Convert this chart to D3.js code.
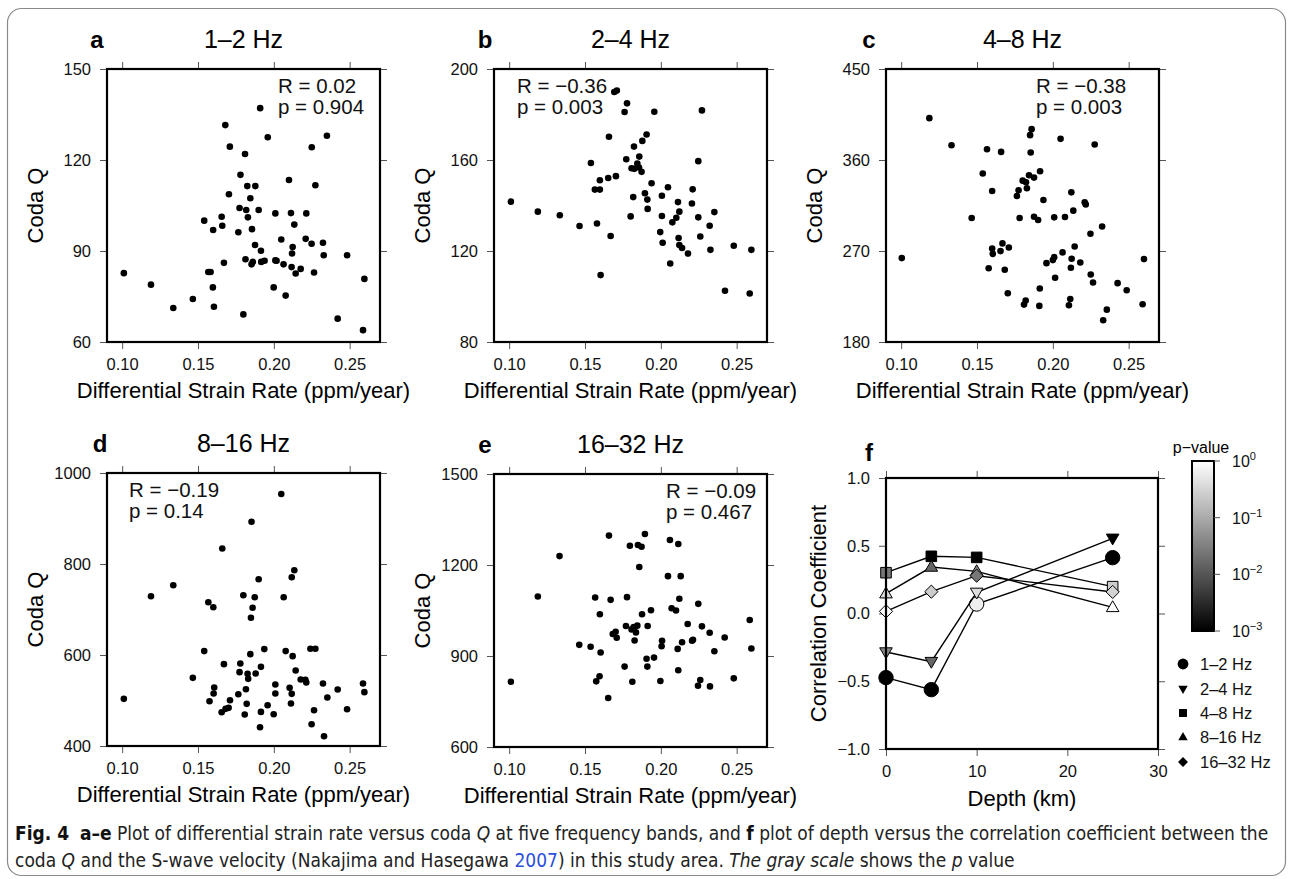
<!DOCTYPE html>
<html>
<head>
<meta charset="utf-8">
<script src="https://cdn.jsdelivr.net/npm/d3@7"></script>
<style>
  html, body { margin: 0; padding: 0; background: #fff; }
  svg { display: block; }
</style>
</head>
<body>
<svg id="chart" width="1291" height="879"></svg>
<script>
// ---- data ----
const strainTicks = [0.10, 0.15, 0.20, 0.25];

// panel a, 1-2 Hz: [strain rate, coda Q]
const band12 = [
  [0.191,137.1],[0.168,131.5],[0.196,127.5],[0.235,128.0],[0.171,124.4],[0.225,124.2],[0.181,122.0],
  [0.178,115.1],[0.210,113.4],[0.1825,111.4],[0.1878,111.4],[0.2274,111.7],[0.1704,108.7],[0.1845,107.4],
  [0.1774,104.2],[0.1818,103.5],[0.190,103.5],[0.201,102.4],[0.2113,102.5],[0.2214,102.4],[0.1656,101.3],
  [0.1829,101.1],[0.1541,100.0],[0.166,98.3],[0.2135,98.7],[0.160,96.9],[0.1766,96.2],[0.1856,97.2],
  [0.2049,93.8],[0.221,94.0],[0.1876,92.0],[0.2249,92.4],[0.2324,92.7],[0.2124,91.3],[0.1915,90.1],
  [0.212,89.2],[0.2483,88.6],[0.2329,88.6],[0.1813,87.3],[0.1671,86.1],[0.1862,86.4],[0.1853,85.6],
  [0.1917,86.4],[0.1939,86.8],[0.201,86.9],[0.2018,86.8],[0.2064,85.6],[0.2117,84.7],[0.2177,84.1],
  [0.2144,82.6],[0.2265,82.9],[0.1011,82.7],[0.1568,83.1],[0.1583,83.1],[0.2597,80.8],[0.119,78.9],
  [0.1999,78.0],[0.1598,78.0],[0.2078,75.3],[0.1466,74.2],[0.1337,71.2],[0.1605,71.6],[0.1799,69.1],
  [0.2421,67.7],[0.2588,63.9]
];

// panel b, 2-4 Hz
const band24 = [
  [0.1693,189.9],[0.171,190.5],[0.1777,184.9],[0.1761,181.1],[0.1957,181.2],[0.2271,181.8],[0.1658,170.2],
  [0.1906,171.2],[0.1878,168.4],[0.1823,165.9],[0.1858,161.5],[0.1772,160.3],[0.1539,158.7],[0.2247,159.5],
  [0.1845,158.4],[0.1807,156.4],[0.1825,156.1],[0.1856,156.7],[0.1873,154.8],[0.1704,152.9],[0.1653,152.1],
  [0.1598,151.1],[0.1939,149.8],[0.2047,148.0],[0.221,147.1],[0.1565,147.0],[0.1598,147.0],[0.1895,145.4],
  [0.1818,143.7],[0.1911,142.6],[0.2007,144.3],[0.1011,141.7],[0.2113,141.5],[0.2205,140.9],[0.1913,138.5],
  [0.2122,137.3],[0.1189,137.3],[0.2353,137.1],[0.1334,135.7],[0.1801,135.2],[0.2007,135.4],[0.2247,134.8],
  [0.2102,134.6],[0.2076,132.6],[0.1579,132.1],[0.1464,131.0],[0.2322,131.1],[0.1996,128.3],[0.1669,126.6],
  [0.2117,125.7],[0.226,126.4],[0.2012,123.6],[0.2122,122.6],[0.214,121.3],[0.2179,118.9],[0.2481,122.3],
  [0.2597,120.5],[0.2327,120.5],[0.2062,114.5],[0.1603,109.4],[0.2423,102.5],[0.2586,101.3]
];

// panel c, 4-8 Hz
const band48 = [
  [0.1186,401.4],[0.186,390.5],[0.185,384.6],[0.2051,380.9],[0.1332,374.6],[0.2276,375.3],[0.1566,370.7],
  [0.1659,368.0],[0.1854,367.4],[0.1538,346.6],[0.1916,348.9],[0.1843,344.9],[0.1876,342.6],[0.1801,339.6],
  [0.1823,338.0],[0.1829,332.0],[0.1774,330.0],[0.160,329.4],[0.1763,324.4],[0.2122,328.0],[0.1938,320.4],
  [0.221,318.1],[0.2217,316.1],[0.2135,309.9],[0.1465,302.6],[0.1781,302.6],[0.1876,303.9],[0.1903,300.6],
  [0.2009,303.3],[0.208,303.6],[0.2325,294.3],[0.2248,287.1],[0.1668,277.5],[0.160,272.5],[0.171,273.5],
  [0.1655,269.9],[0.1604,267.2],[0.2144,274.5],[0.2064,268.6],[0.2009,263.9],[0.200,261.0],[0.2124,262.3],
  [0.1004,263.0],[0.2601,262.0],[0.1958,258.0],[0.2181,258.7],[0.2119,253.4],[0.1577,253.0],[0.1683,251.4],
  [0.225,246.8],[0.2015,243.5],[0.2265,238.8],[0.2427,238.2],[0.2487,231.2],[0.1914,232.9],[0.1703,228.2],
  [0.1821,221.0],[0.181,217.0],[0.1911,215.7],[0.2115,222.6],[0.2106,216.4],[0.2592,217.3],[0.2356,212.0],
  [0.2332,201.5]
];

// panel d, 8-16 Hz
const band816 = [
  [0.2049,953.7],[0.1853,892.8],[0.166,834.0],[0.2135,786.2],[0.2118,770.9],[0.190,766.4],[0.1337,753.2],
  [0.119,729.0],[0.1799,731.2],[0.1874,726.8],[0.2065,726.8],[0.1568,715.8],[0.1601,704.8],[0.186,704.0],
  [0.1849,682.0],[0.1541,608.6],[0.1937,613.0],[0.2078,608.6],[0.2241,613.7],[0.2274,613.7],[0.1845,601.9],
  [0.2124,597.5],[0.1671,579.9],[0.1779,581.4],[0.1915,574.0],[0.1774,562.3],[0.1827,558.6],[0.188,559.3],
  [0.2144,565.9],[0.1466,549.8],[0.1831,547.6],[0.2177,546.1],[0.2208,545.4],[0.2214,539.5],[0.2324,537.3],
  [0.2588,537.3],[0.1607,528.5],[0.2104,527.8],[0.201,535.1],[0.1816,524.8],[0.1603,515.3],[0.201,515.3],
  [0.2118,514.6],[0.2421,524.1],[0.2597,518.3],[0.1766,513.8],[0.2353,506.5],[0.1011,503.6],[0.1711,500.6],
  [0.1576,498.4],[0.2113,493.3],[0.1821,492.6],[0.1959,489.6],[0.1702,483.8],[0.1682,481.6],[0.1656,474.3],
  [0.1915,475.0],[0.2265,478.7],[0.2483,480.9],[0.1808,469.1],[0.1999,469.8],[0.2249,447.8],[0.1909,441.2],
  [0.2331,421.3]
];

// panel e, 16-32 Hz
const band1632 = [
  [0.1895,1302.3],[0.1658,1296.9],[0.206,1282.5],[0.1796,1263.7],[0.1849,1265.9],[0.1873,1260.4],[0.2115,1269.2],
  [0.1332,1229.4],[0.1858,1193.2],[0.2047,1163.3],[0.2131,1163.3],[0.1189,1096.1],[0.1567,1092.9],[0.1669,1085.1],
  [0.1777,1094.0],[0.2122,1088.5],[0.2247,1071.9],[0.1935,1050.9],[0.2071,1057.5],[0.210,1049.8],[0.1598,1037.6],
  [0.1876,1037.6],[0.2586,1018.7],[0.2177,1005.6],[0.2271,997.8],[0.177,999.0],[0.1821,995.7],[0.1845,1000.0],
  [0.1913,999.0],[0.1807,987.7],[0.1836,977.8],[0.2322,976.7],[0.1702,980.0],[0.1683,972.3],[0.1709,960.1],
  [0.2421,961.2],[0.1827,951.2],[0.2008,950.1],[0.2212,953.5],[0.2206,950.2],[0.214,945.5],[0.2005,932.3],
  [0.2111,923.4],[0.1462,936.7],[0.1537,930.3],[0.1603,911.4],[0.2597,924.5],[0.2353,915.6],[0.1955,894.8],
  [0.1906,890.7],[0.1761,865.0],[0.1911,865.0],[0.2115,852.9],[0.1011,815.3],[0.1596,833.3],[0.1574,816.4],
  [0.1812,815.3],[0.1997,817.5],[0.226,820.8],[0.2245,802.0],[0.2324,799.8],[0.2481,826.3],[0.1653,761.6]
];

const bandTitles = ["1–2 Hz", "2–4 Hz", "4–8 Hz", "8–16 Hz", "16–32 Hz"];
const rValues = ["0.02", "−0.36", "−0.38", "−0.19", "−0.09"];
const pValues = ["0.904", "0.003", "0.003", "0.14", "0.467"];

// panel f
const depths = [0, 5, 10, 25];
const depthTicks = [0, 10, 20, 30];
const corrTicks = [-1.0, -0.5, 0.0, 0.5, 1.0];
const corr12 = [-0.473, -0.562, 0.070, 0.412];
const corr24 = [-0.284, -0.355, 0.156, 0.555];
const corr48 = [0.301, 0.422, 0.414, 0.198];
const corr816 = [0.146, 0.343, 0.311, 0.045];
const corr1632 = [0.016, 0.161, 0.279, 0.159];
const pval12 = [0.001, 0.001, 0.63, 0.001];
const pval24 = [0.04, 0.016, 0.4, 0.001];
const pval48 = [0.025, 0.001, 0.001, 0.25];
const pval816 = [0.4, 0.016, 0.04, 1.0];
const pval1632 = [1.0, 0.25, 0.025, 0.3];
const colorTicks = [1, 0.1, 0.01, 0.001];
const colorExps = ["0", "−1", "−2", "−3"];

// ---- drawing ----
const svg = d3.select("#chart");
const font = "'Liberation Sans', Arial, Helvetica, sans-serif";
const size = 273;

svg.append("rect")
    .attr("x", 7.5).attr("y", 8.5)
    .attr("width", 1278).attr("height", 867)
    .attr("rx", 14)
    .attr("fill", "none")
    .attr("stroke", "#8a8a8a")
    .attr("stroke-width", 1.2);

function styleAxis(ax) {
    ax.select(".domain").remove();
    ax.selectAll(".tick line").attr("stroke", "#555").attr("stroke-width", 1);
    ax.selectAll(".tick text")
        .attr("fill", "#111")
        .attr("font-family", font)
        .attr("font-size", 16.5);
}

function frameAxes(g, x, y, xTickVals, yTickVals, xFmt, yFmt, h) {
    styleAxis(g.append("g").attr("transform", `translate(0,${h})`)
        .call(d3.axisBottom(x).tickValues(xTickVals).tickFormat(xFmt).tickSize(7).tickPadding(9)));
    styleAxis(g.append("g")
        .call(d3.axisTop(x).tickValues(xTickVals).tickFormat("").tickSize(7)));
    styleAxis(g.append("g")
        .call(d3.axisLeft(y).tickValues(yTickVals).tickFormat(yFmt).tickSize(7).tickPadding(9)));
    styleAxis(g.append("g").attr("transform", `translate(${size},0)`)
        .call(d3.axisRight(y).tickValues(yTickVals).tickFormat("").tickSize(7)));
}

function panelTitle(letter, lx, title, cx, baseY) {
    svg.append("text")
        .attr("x", lx).attr("y", baseY)
        .attr("text-anchor", "middle")
        .attr("font-family", font).attr("font-size", 24).attr("font-weight", "bold")
        .text(letter);
    if (title) {
        svg.append("text")
            .attr("x", cx).attr("y", baseY)
            .attr("text-anchor", "middle")
            .attr("font-family", font).attr("font-size", 25)
            .text(title);
    }
}

const scatterPanels = [
    { data: band12, letter: "a", left: 107, top: 69, lx: 97, yDomain: [60, 150], yTicks: [60, 90, 120, 150], statX: 171 },
    { data: band24, letter: "b", left: 494, top: 69, lx: 485, yDomain: [80, 200], yTicks: [80, 120, 160, 200], statX: 23 },
    { data: band48, letter: "c", left: 886, top: 69, lx: 869, yDomain: [180, 450], yTicks: [180, 270, 360, 450], statX: 150 },
    { data: band816, letter: "d", left: 107, top: 473, lx: 100, yDomain: [400, 1000], yTicks: [400, 600, 800, 1000], statX: 22 },
    { data: band1632, letter: "e", left: 494, top: 474, lx: 485, yDomain: [600, 1500], yTicks: [600, 900, 1200, 1500], statX: 172 }
];

scatterPanels.forEach((p, i) => {
    const g = svg.append("g").attr("transform", `translate(${p.left},${p.top})`);
    const x = d3.scaleLinear().domain([0.09, 0.27]).range([0, size]);
    const y = d3.scaleLinear().domain(p.yDomain).range([size, 0]);

    frameAxes(g, x, y, strainTicks, p.yTicks, d3.format(".2f"), d3.format("d"), size);

    g.append("g").selectAll("circle")
        .data(p.data)
        .join("circle")
        .attr("cx", d => x(d[0]))
        .attr("cy", d => y(d[1]))
        .attr("r", 3.3)
        .attr("fill", "#000");

    g.append("rect")
        .attr("width", size).attr("height", size)
        .attr("fill", "none").attr("stroke", "#000").attr("stroke-width", 2.2);

    const stat = g.append("text")
        .attr("font-family", font).attr("font-size", 20.5).attr("fill", "#111");
    stat.append("tspan").attr("x", p.statX).attr("y", 24).text(`R = ${rValues[i]}`);
    stat.append("tspan").attr("x", p.statX).attr("y", 45).text(`p = ${pValues[i]}`);

    g.append("text")
        .attr("x", size / 2).attr("y", size + 56)
        .attr("text-anchor", "middle")
        .attr("font-family", font).attr("font-size", 22)
        .text("Differential Strain Rate (ppm/year)");

    g.append("text")
        .attr("transform", `translate(-64,${size / 2}) rotate(-90)`)
        .attr("text-anchor", "middle")
        .attr("font-family", font).attr("font-size", 22)
        .text("Coda Q");

    panelTitle(p.letter, p.lx, bandTitles[i], p.left + size / 2, p.top - 21);
});

// ---- panel f ----
const fLeft = 886, fTop = 478, fH = 271;
const pColor = d3.scaleLog().domain([0.001, 1]).range(["#000", "#fff"]).interpolate(d3.interpolateRgb);

function markerPath(type, k) {
    const p = d3.path();
    if (type === "circle") {
        const r = 7.2 * k;
        p.moveTo(r, 0); p.arc(0, 0, r, 0, 2 * Math.PI);
    } else if (type === "down") {
        const w = 6.3 * k;
        p.moveTo(-w, -4.2 * k); p.lineTo(w, -4.2 * k); p.lineTo(0, 6.6 * k);
    } else if (type === "square") {
        const s = 5.3 * k;
        p.rect(-s, -s, 2 * s, 2 * s);
    } else if (type === "up") {
        const w = 6.3 * k;
        p.moveTo(-w, 4.2 * k); p.lineTo(w, 4.2 * k); p.lineTo(0, -6.6 * k);
    } else {
        const s = 6.6 * k;
        p.moveTo(0, -s); p.lineTo(s, 0); p.lineTo(0, s); p.lineTo(-s, 0);
    }
    p.closePath();
    return p.toString();
}

const fSeries = [
    { name: "1–2 Hz", corr: corr12, pv: pval12, shape: "circle" },
    { name: "2–4 Hz", corr: corr24, pv: pval24, shape: "down" },
    { name: "4–8 Hz", corr: corr48, pv: pval48, shape: "square" },
    { name: "8–16 Hz", corr: corr816, pv: pval816, shape: "up" },
    { name: "16–32 Hz", corr: corr1632, pv: pval1632, shape: "diamond" }
];

const fg = svg.append("g").attr("transform", `translate(${fLeft},${fTop})`);
const fx = d3.scaleLinear().domain([0, 30]).range([0, size - 1]);
const fy = d3.scaleLinear().domain([-1, 1]).range([fH, 0]);

(function () {
    styleAxis(fg.append("g").attr("transform", `translate(0,${fH})`)
        .call(d3.axisBottom(fx).tickValues(depthTicks).tickFormat(d3.format("d")).tickSize(7).tickPadding(9)));
    styleAxis(fg.append("g")
        .call(d3.axisTop(fx).tickValues(depthTicks).tickFormat("").tickSize(7)));
    styleAxis(fg.append("g")
        .call(d3.axisLeft(fy).tickValues(corrTicks).tickFormat(d => d3.format(".1f")(d).replace("-", "−")).tickSize(7).tickPadding(9)));
    styleAxis(fg.append("g").attr("transform", `translate(${size - 1},0)`)
        .call(d3.axisRight(fy).tickValues(corrTicks).tickFormat("").tickSize(7)));
})();

const line = d3.line().x(d => fx(d.depth)).y(d => fy(d.r));

fSeries.forEach(s => {
    const pts = depths.map((d, j) => ({ depth: d, r: s.corr[j], p: s.pv[j] }));
    fg.append("path")
        .attr("d", line(pts))
        .attr("fill", "none").attr("stroke", "#000").attr("stroke-width", 1.4);
    fg.append("g").selectAll("path")
        .data(pts)
        .join("path")
        .attr("transform", d => `translate(${fx(d.depth)},${fy(d.r)})`)
        .attr("d", markerPath(s.shape, 1))
        .attr("fill", d => pColor(d.p))
        .attr("stroke", "#000").attr("stroke-width", 1);
});

fg.append("rect")
    .attr("width", size - 1).attr("height", fH)
    .attr("fill", "none").attr("stroke", "#000").attr("stroke-width", 2.2);

fg.append("text")
    .attr("x", (size - 1) / 2).attr("y", fH + 57)
    .attr("text-anchor", "middle")
    .attr("font-family", font).attr("font-size", 22)
    .text("Depth (km)");

fg.append("text")
    .attr("transform", `translate(-60,${fH / 2}) rotate(-90)`)
    .attr("text-anchor", "middle")
    .attr("font-family", font).attr("font-size", 22)
    .text("Correlation Coefficient");

panelTitle("f", 869, null, 0, 461);

// colorbar
const cbX = 1192, cbW = 22;
const cb = d3.scaleLog().domain([0.001, 1]).range([631, 461]);
const grad = svg.append("defs").append("linearGradient")
    .attr("id", "pgrad").attr("x1", 0).attr("y1", 1).attr("x2", 0).attr("y2", 0);
d3.range(0, 1.0001, 0.05).forEach(t => {
    grad.append("stop")
        .attr("offset", t)
        .attr("stop-color", pColor(Math.pow(10, -3 + 3 * t)));
});
svg.append("rect")
    .attr("x", cbX).attr("y", cb(1))
    .attr("width", cbW).attr("height", cb(0.001) - cb(1))
    .attr("fill", "url(#pgrad)")
    .attr("stroke", "#000").attr("stroke-width", 2);

svg.append("text")
    .attr("x", cbX + cbW / 2 - 2).attr("y", 453)
    .attr("text-anchor", "middle")
    .attr("font-family", font).attr("font-size", 16)
    .text("p−value");

colorTicks.forEach((v, i) => {
    svg.append("line")
        .attr("x1", cbX + cbW).attr("x2", cbX + cbW + 6)
        .attr("y1", cb(v)).attr("y2", cb(v))
        .attr("stroke", "#555");
    const t = svg.append("text")
        .attr("x", cbX + 40).attr("y", cb(v) + 6)
        .attr("font-family", font).attr("font-size", 16).attr("fill", "#111");
    t.append("tspan").text("10");
    t.append("tspan").attr("dy", -7).attr("font-size", 11).text(colorExps[i]);
});

// legend
const legendRows = [664, 689, 713, 737, 762];
fSeries.forEach((s, i) => {
    svg.append("path")
        .attr("transform", `translate(1183,${legendRows[i]})`)
        .attr("d", markerPath(s.shape, 0.75))
        .attr("fill", "#000");
    svg.append("text")
        .attr("x", 1200).attr("y", legendRows[i] + 6)
        .attr("font-family", font).attr("font-size", 16.5).attr("fill", "#111")
        .text(s.name);
});

// ---- caption ----
const capFont = "'DejaVu Sans Condensed', 'Liberation Sans Narrow', 'Liberation Sans', sans-serif";
const captionLines = [
    [["Fig. 4", "bold"], ["  ", ""], ["a–e", "bold"], [" Plot of differential strain rate versus coda ", ""], ["Q", "italic"],
     [" at five frequency bands, and ", ""], ["f", "bold"], [" plot of depth versus the correlation coefficient between the", ""]],
    [["coda ", ""], ["Q", "italic"], [" and the S-wave velocity (Nakajima and Hasegawa ", ""], ["2007", "link"],
     [") in this study area. ", ""], ["The gray scale", "italic"], [" shows the ", ""], ["p", "italic"], [" value", ""]]
];
const capBase = [840, 867];
let capScale = null;
captionLines.forEach((parts, li) => {
    const t = svg.append("text")
        .attr("font-family", capFont).attr("font-size", 19).attr("fill", "#222")
        .attr("xml:space", "preserve")
        .style("white-space", "pre");
    parts.forEach(([str, st]) => {
        const ts = t.append("tspan").text(str);
        if (st === "bold") ts.attr("font-weight", "bold").attr("fill", "#111");
        if (st === "italic") ts.attr("font-style", "italic");
        if (st === "link") ts.attr("fill", "#2a4fd8");
    });
    const w = t.node().getComputedTextLength();
    if (capScale === null) capScale = 1254 / w;
    t.attr("transform", `translate(15,${capBase[li]}) scale(${capScale},1)`);
});
</script>
</body>
</html>
